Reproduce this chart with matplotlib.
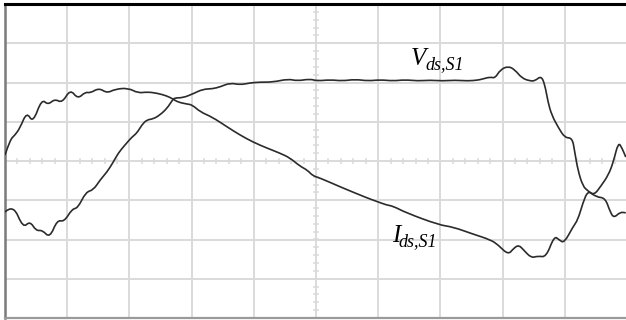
import numpy as np
import matplotlib
matplotlib.use("Agg")
import matplotlib.pyplot as plt
from matplotlib.path import Path
from matplotlib.patches import PathPatch

# scope traces, in screen divisions (x: 0..10, y: -4..4)
vds_x = [0.00, 0.13, 0.29, 0.40, 0.50, 0.60, 0.72, 0.84, 0.95, 1.08, 1.17, 1.30,
         1.42, 1.53, 1.64, 1.74, 1.82, 1.93, 2.04, 2.12, 2.20, 2.28, 2.38, 2.49,
         2.61, 2.69, 2.73, 2.86, 3.02, 3.18, 3.34, 3.46, 3.62, 3.78, 3.94, 4.10,
         4.31, 4.55, 4.70, 4.90, 5.02, 5.23, 5.42, 5.63, 5.84, 6.03, 6.24, 6.43,
         6.64, 6.83, 7.04, 7.23, 7.44, 7.60, 7.68, 7.80, 7.88, 7.96, 8.09, 8.20,
         8.31, 8.44, 8.52, 8.62, 8.68, 8.73, 8.79, 8.89, 9.00, 9.12, 9.16, 9.21,
         9.29, 9.37, 9.51, 9.65, 9.73, 9.79, 9.89, 9.98]
vds_y = [-1.30, -1.10, -1.71, -1.53, -1.78, -1.76, -1.96, -1.50, -1.55, -1.22, -1.20, -0.79,
         -0.74, -0.48, -0.28, -0.03, 0.20, 0.41, 0.61, 0.71, 0.92, 1.05, 1.07, 1.17,
         1.35, 1.55, 1.61, 1.61, 1.71, 1.83, 1.84, 1.89, 1.99, 1.94, 1.99, 2.01,
         2.01, 2.09, 2.04, 2.09, 2.04, 2.07, 2.04, 2.08, 2.04, 2.07, 2.04, 2.07,
         2.04, 2.06, 2.04, 2.06, 2.04, 2.06, 2.09, 2.14, 2.11, 2.32, 2.42, 2.32,
         2.11, 2.04, 2.04, 2.17, 1.94, 1.50, 1.17, 0.87, 0.59, 0.59, 0.23, -0.23,
         -0.64, -0.76, -0.92, -0.94, -1.30, -1.45, -1.30, -1.32]

ids_x = [0.00, 0.08, 0.16, 0.24, 0.35, 0.45, 0.59, 0.69, 0.80, 0.92, 1.05, 1.17,
         1.29, 1.37, 1.51, 1.64, 1.77, 1.98, 2.14, 2.28, 2.44, 2.60, 2.70, 2.78,
         2.93, 3.01, 3.14, 3.33, 3.57, 3.78, 3.99, 4.21, 4.42, 4.58, 4.74, 4.86,
         4.95, 5.06, 5.39, 5.82, 5.96, 6.13, 6.24, 6.45, 6.98, 7.20, 7.52, 7.81,
         7.93, 8.09, 8.18, 8.26, 8.34, 8.46, 8.57, 8.70, 8.83, 8.91, 8.99, 9.13,
         9.21, 9.29, 9.37, 9.47, 9.58, 9.70, 9.78, 9.86, 9.92, 9.98]
ids_y = [0.15, 0.54, 0.66, 0.84, 1.25, 0.97, 1.58, 1.43, 1.58, 1.48, 1.83, 1.58,
         1.76, 1.73, 1.86, 1.73, 1.83, 1.86, 1.73, 1.76, 1.73, 1.66, 1.58, 1.50,
         1.45, 1.43, 1.25, 1.12, 0.87, 0.66, 0.48, 0.33, 0.20, 0.08, -0.13, -0.23,
         -0.38, -0.43, -0.66, -0.94, -1.02, -1.12, -1.15, -1.32, -1.63, -1.68, -1.86, -2.01,
         -2.14, -2.39, -2.22, -2.14, -2.27, -2.47, -2.42, -2.45, -1.91, -2.01, -2.09, -1.68,
         -1.50, -1.07, -0.76, -0.87, -0.64, -0.36, -0.03, 0.48, 0.33, 0.10]

labels = ['V', 'I']
label_subs = ['ds,S1', 'ds,S1']
label_pos = [(6.53, 2.45), (6.22, -2.06)]


def trace_path(xs, ys):
    # quadratic bezier through the midpoints, like a scope's smoothed trace
    pts = np.column_stack([xs, ys])
    verts = [pts[0]]
    codes = [Path.MOVETO]
    for i in range(1, len(pts) - 1):
        verts += [pts[i], (pts[i] + pts[i + 1]) / 2]
        codes += [Path.CURVE3, Path.CURVE3]
    verts.append(pts[-1])
    codes.append(Path.LINETO)
    return Path(verts, codes)


W, H = 626, 320
fig = plt.figure(figsize=(W / 100, H / 100), dpi=100)
ax = fig.add_axes([5 / W, 2 / H, 622 / W, 314 / H])
ax.set_xlim(0, 10)
ax.set_ylim(-4, 4)
ax.set_xticks([])
ax.set_yticks([])

grid_c = '#dadada'
for gx in range(1, 11):
    ax.axvline(gx, color=grid_c, lw=1.4, zorder=0)
for gy in range(-3, 4):
    ax.axhline(gy, color=grid_c, lw=1.4, zorder=0)

# small ticks on the centre cross
for t in np.arange(0.2, 10, 0.2):
    ax.plot([t, t], [-0.06, 0.06], color=grid_c, lw=1.2, zorder=0)
for t in np.arange(-3.8, 4, 0.2):
    ax.plot([4.965, 5.035], [t, t], color=grid_c, lw=1.2, zorder=0)

for s in ax.spines.values():
    s.set_visible(False)
ax.spines['top'].set_visible(True)
ax.spines['top'].set_color('black')
ax.spines['top'].set_linewidth(2.2)
ax.spines['left'].set_visible(True)
ax.spines['left'].set_color('#7a7a7a')
ax.spines['left'].set_linewidth(1.8)
ax.spines['bottom'].set_visible(True)
ax.spines['bottom'].set_color('#9a9a9a')
ax.spines['bottom'].set_linewidth(1.6)

for xs, ys in [(vds_x, vds_y), (ids_x, ids_y)]:
    ax.add_patch(PathPatch(trace_path(xs, ys), facecolor='none',
                           edgecolor='#2b2b2b', lw=1.2, zorder=3))

# labels: italic serif letter with italic subscript
fig.canvas.draw()
renderer = fig.canvas.get_renderer()
for lab, sub, (lx, ly) in zip(labels, label_subs, label_pos):
    t = ax.text(lx, ly, lab, fontsize=18, family='Liberation Serif',
                style='italic', ha='left', va='baseline', color='black')
    bb = t.get_window_extent(renderer)
    ax.annotate(sub, xy=(lx, ly), xytext=(bb.width * 72 / 100 - 1, -3),
                textcoords='offset points', fontsize=13,
                family='Liberation Serif', style='italic',
                ha='left', va='baseline', color='black')

fig.savefig('out.png', dpi=100)
